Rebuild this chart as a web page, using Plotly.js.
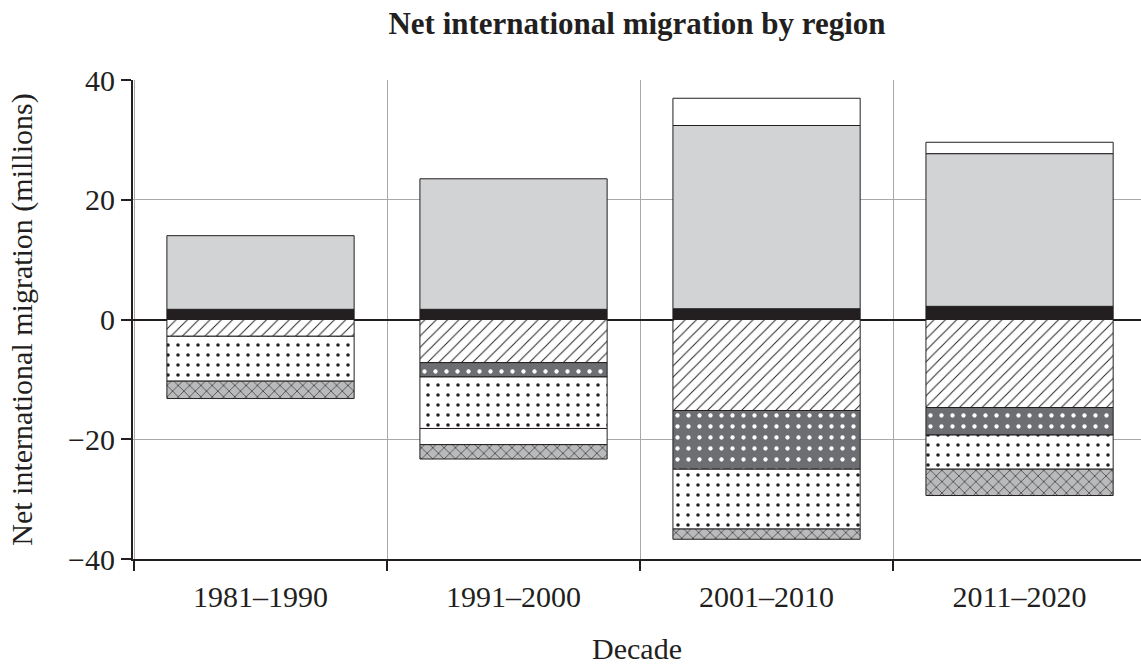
<!DOCTYPE html>
<html>
<head>
<meta charset="utf-8">
<script src="https://cdn.plot.ly/plotly-3.0.1.min.js"></script>
<style>html,body{margin:0;padding:0;background:#fff;overflow:hidden;}</style>
</head>
<body>
<div id="chart" style="width:1141px;height:668px;"></div>
<script>
// Categories (decades)
const decades = ["1981–1990", "1991–2000", "2001–2010", "2011–2020"];

// Series values (millions); stack order bottom-up from zero
const solidBlack   = [1.7, 1.7, 1.8, 2.2];
const lightGray    = [12.3, 21.8, 30.6, 25.5];
const diagHatch    = [-2.8, -7.2, -15.2, -14.7];
const darkTriangle = [null, -2.4, -9.8, -4.6];
const openDots     = [-7.5, -8.6, -10.0, -5.7];
const plainWhite   = [null, -2.7, 4.55, 1.9];
const crossHatch   = [-2.9, -2.4, -1.7, -4.4];

const ink = "#231f20";
const fontFam = "Liberation Serif, Times New Roman, serif";

function mk(name, y, pattern, color) {
  return {
    type: "bar", name: name, x: decades, y: y, width: 0.74,
    marker: {
      color: color,
      line: {color: ink, width: 1},
      pattern: pattern
    },
    hoverinfo: "x+y+name"
  };
}

const traces = [
  mk("Series A", solidBlack, {shape: ""}, ink),
  mk("Series B", lightGray, {shape: ""}, "#d1d3d4"),
  mk("Series C", diagHatch, {shape: "/", bgcolor: "#ffffff", fgcolor: ink, size: 8, solidity: 0.12, fillmode: "replace"}, "#ffffff"),
  mk("Series D", darkTriangle, {shape: ".", bgcolor: "#6d6e71", fgcolor: "#ffffff", size: 11, solidity: 0.12, fillmode: "replace"}, "#6d6e71"),
  mk("Series E", openDots, {shape: ".", bgcolor: "#ffffff", fgcolor: ink, size: 10, solidity: 0.1, fillmode: "replace"}, "#ffffff"),
  mk("Series F", plainWhite, {shape: ""}, "#ffffff"),
  mk("Series G", crossHatch, {shape: "x", bgcolor: "#b8babc", fgcolor: ink, size: 8, solidity: 0.15, fillmode: "replace"}, "#b8babc")
];

const layout = {
  width: 1141, height: 668,
  margin: {l: 133, r: 0, t: 80, b: 109},
  paper_bgcolor: "#ffffff", plot_bgcolor: "#ffffff",
  barmode: "relative",
  showlegend: false,
  font: {family: fontFam, size: 30, color: ink},
  title: {
    text: "<b>Net international migration by region</b>",
    font: {family: fontFam, size: 31, color: ink},
    x: 0.5, xref: "paper", xanchor: "center",
    y: 0.982, yref: "container", yanchor: "top"
  },
  xaxis: {
    type: "category",
    range: [-0.504, 3.48],
    tickson: "boundaries",
    ticks: "outside", ticklen: 10, tickcolor: ink, tickwidth: 2,
    ticklabelstandoff: 10,
    showgrid: true, gridcolor: "#a7a9ac", gridwidth: 1,
    showline: true, linecolor: ink, linewidth: 2,
    tickfont: {family: fontFam, size: 30, color: ink},
    title: {text: "Decade", font: {family: fontFam, size: 30, color: ink}, standoff: 26},
    fixedrange: true
  },
  yaxis: {
    range: [-40, 40],
    tickvals: [-40, -20, 0, 20, 40],
    ticks: "outside", ticklen: 10, tickcolor: ink, tickwidth: 2,
    showgrid: true, gridcolor: "#a7a9ac", gridwidth: 1,
    zeroline: true, zerolinecolor: ink, zerolinewidth: 2,
    showline: true, linecolor: ink, linewidth: 2,
    tickfont: {family: fontFam, size: 30, color: ink},
    title: {text: "Net international migration (millions)", font: {family: fontFam, size: 30, color: ink}, standoff: 27},
    fixedrange: true
  }
};

Plotly.newPlot("chart", traces, layout, {displayModeBar: false, staticPlot: true});
</script>
</body>
</html>
